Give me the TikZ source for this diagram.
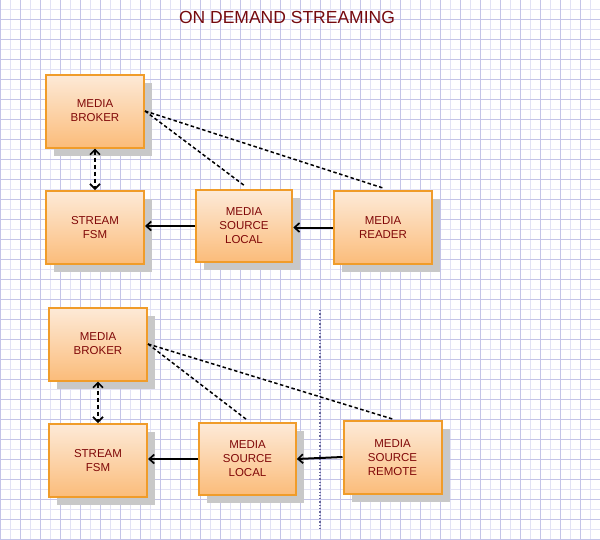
\documentclass[tikz,border=0pt]{standalone}
\usepackage{fontspec}
\setmainfont{Liberation Sans}
\usetikzlibrary{arrows.meta,shadows,calc}
\definecolor{gridminor}{RGB}{226,226,245}
\definecolor{gridmajor}{RGB}{196,196,232}
\definecolor{boxborder}{RGB}{240,156,42}
\definecolor{boxtop}{RGB}{253,234,216}
\definecolor{boxbot}{RGB}{251,188,122}
\definecolor{boxtext}{RGB}{128,8,8}
\definecolor{titlecol}{RGB}{118,10,14}
\definecolor{shadowgray}{RGB}{200,200,200}
\begin{document}
\begin{tikzpicture}[x=1pt,y=-1pt,
  box/.style={draw=boxborder, line width=2pt, top color=boxtop, bottom color=boxbot,
    minimum width=98pt, minimum height=73pt, inner sep=1pt, align=center, text=boxtext,
    font=\fontsize{11.5}{14}\selectfont,
    drop shadow={shadow xshift=8pt, shadow yshift=-8pt, fill=shadowgray, opacity=1}},
  smallbox/.style={box, minimum width=96.5pt, minimum height=71.5pt},
  tiearrow/.style={line width=2pt, -{Straight Barb[length=5pt,width=9pt,line width=1.7pt]}},
  linkline/.style={line width=1.5pt, dash pattern=on 3.5pt off 2.5pt},
  bothway/.style={line width=2pt, dash pattern=on 4pt off 3pt,
    {Straight Barb[length=5pt,width=10pt,line width=1.7pt]}-{Straight Barb[length=5pt,width=10pt,line width=1.7pt]}},
  divider/.style={draw=gray!80!blue, line width=1.3pt, dotted}
]
\useasboundingbox (0,0) rectangle (600,539);
\fill[white] (0,0) rectangle (600,539);
% grid
\foreach \x in {10,30,...,590} \draw[gridminor, line width=1pt] (\x,0) -- (\x,539);
\foreach \y in {9,29,...,529} \draw[gridminor, line width=1pt] (0,\y) -- (600,\y);
\foreach \x in {0,20,...,600} \draw[gridmajor, line width=1pt] (\x,0) -- (\x,539);
\foreach \y in {19,39,...,539} \draw[gridmajor, line width=1pt] (0,\y) -- (600,\y);

\node[text=titlecol, font=\fontsize{17.5}{20}\selectfont] (title) at (287,17) {ON DEMAND STREAMING};

% top diagram
\node[box] (b1) at (95,111) {MEDIA\\BROKER};
\node[box] (f1) at (95,227.5) {STREAM\\FSM};
\node[smallbox] (l1) at (244,226) {MEDIA\\SOURCE\\LOCAL};
\node[box] (r1) at (383,227.5) {MEDIA\\READER};

\draw[linkline] (b1.east) -- ([yshift=4pt]l1.north);
\draw[linkline] (b1.east) -- ([yshift=2pt]r1.north);
\draw[bothway] (b1.south) -- (f1.north);
\draw[tiearrow] (l1.west) -- (l1.west -| f1.east);
\draw[tiearrow] (r1.west) -- (r1.west -| l1.east);

% bottom diagram
\node[box] (b2) at (98,344) {MEDIA\\BROKER};
\node[box] (f2) at (98,460.5) {STREAM\\FSM};
\node[smallbox] (l2) at (247.5,459) {MEDIA\\SOURCE\\LOCAL};
\node[box] (r2) at (392.5,457.5) {MEDIA\\SOURCE\\REMOTE};

\coordinate (d1) at (320,310);
\coordinate (d2) at (320,528);
\draw[divider] (d1) -- (d2);

\draw[linkline] (b2.east) -- ([yshift=2pt]l2.north);
\draw[linkline] (b2.east) -- ([yshift=1pt]r2.north);
\draw[bothway] (b2.south) -- (f2.north);
\draw[tiearrow] (l2.west) -- (l2.west -| f2.east);
\draw[tiearrow] ([yshift=0.5pt]r2.west) -- (l2.east);
\end{tikzpicture}
\end{document}
